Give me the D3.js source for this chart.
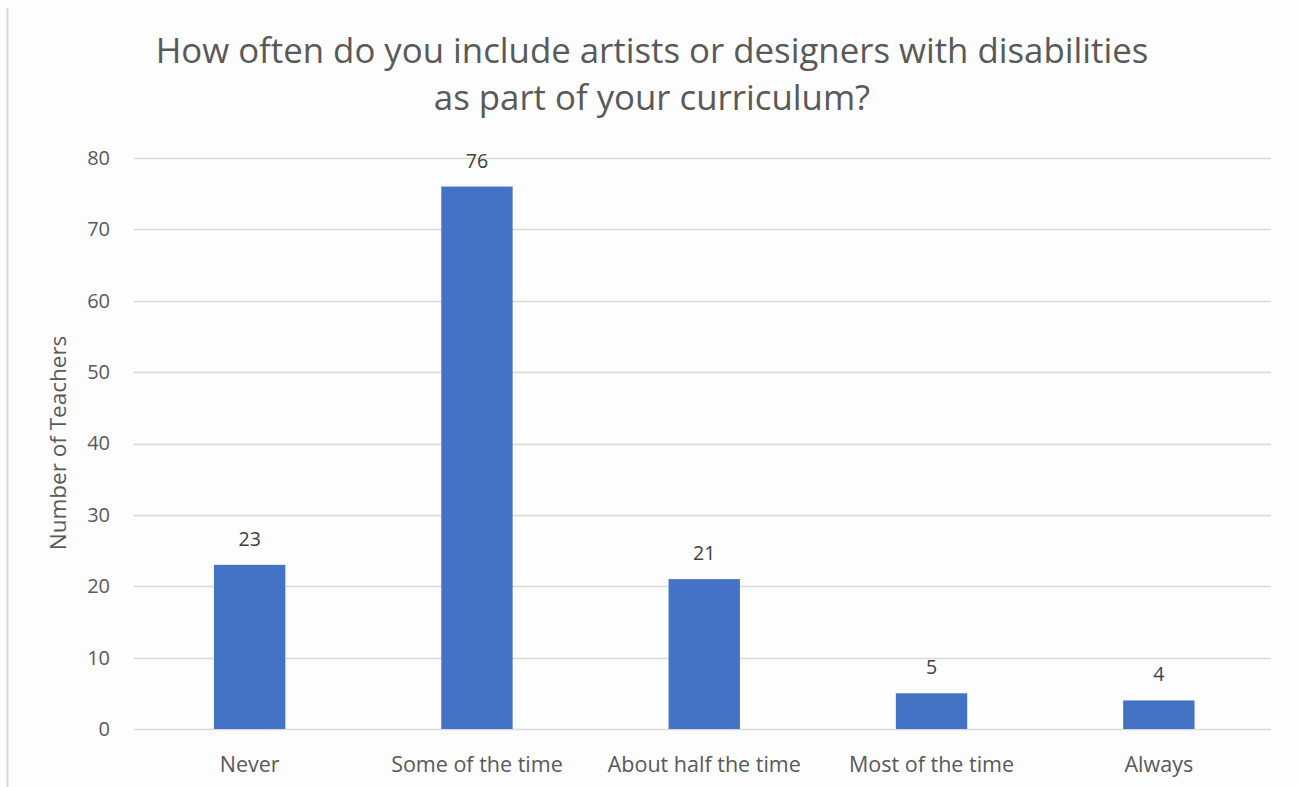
<!DOCTYPE html>
<html>
<head>
<meta charset="utf-8">
<script src="https://cdn.jsdelivr.net/npm/d3@7"></script>
<style>
  html, body { margin: 0; padding: 0; background: #fdfdfd; }
  svg { display: block; font-family: "Open Sans", "Noto Sans", sans-serif; }
</style>
</head>
<body>
<svg id="chart" width="1301" height="787"></svg>
<script>
const categories = ["Never", "Some of the time", "About half the time", "Most of the time", "Always"];
const values = [23, 76, 21, 5, 4];
const yTicks = [0, 10, 20, 30, 40, 50, 60, 70, 80];
const titleLines = ["How often do you include artists or designers with disabilities", "as part of your curriculum?"];
const yLabel = "Number of Teachers";

const svg = d3.select("#chart");
const W = 1301, H = 787;
const margin = { left: 134, right: 30, top: 158, bottom: 58 };
const plotW = W - margin.left - margin.right;
const plotH = H - margin.top - margin.bottom;

svg.append("rect").attr("width", W).attr("height", H).attr("fill", "#fdfdfd");
svg.append("line").attr("x1", 7.5).attr("x2", 7.5).attr("y1", 8).attr("y2", H)
  .attr("stroke", "#d9d9d9").attr("stroke-width", 2);

const g = svg.append("g").attr("transform", `translate(${margin.left},${margin.top})`);

const x = d3.scaleBand().domain(categories).range([2, plotW + 1.5]).paddingInner(0.686).paddingOuter(0.343);
const y = d3.scaleLinear().domain([0, 80]).range([plotH, 0]);

// gridlines
g.append("g").selectAll("line").data(yTicks).join("line")
  .attr("x1", 0).attr("x2", plotW)
  .attr("y1", d => Math.round(y(d)) + 0.5).attr("y2", d => Math.round(y(d)) + 0.5)
  .attr("stroke", "#d9d9d9").attr("stroke-width", 1.6);

// y axis labels
const yAxis = d3.axisLeft(y).tickValues(yTicks).tickSize(0).tickPadding(24);
const ya = g.append("g").call(yAxis);
ya.select(".domain").remove();
ya.selectAll("text").attr("font-size", 20).attr("fill", "#595959").attr("font-family", "'Open Sans', sans-serif");

// bars
g.append("g").selectAll("rect").data(values).join("rect")
  .attr("x", (d, i) => x(categories[i]))
  .attr("width", x.bandwidth())
  .attr("y", d => y(d))
  .attr("height", d => y(0) - y(d))
  .attr("fill", "#4472c4");

// value labels
g.append("g").selectAll("text").data(values).join("text")
  .attr("x", (d, i) => x(categories[i]) + x.bandwidth() / 2)
  .attr("y", d => y(d) - 19)
  .attr("text-anchor", "middle")
  .attr("font-size", 19.5)
  .attr("fill", "#404040")
  .text(d => d);

// x axis labels
const xAxis = d3.axisBottom(x).tickSize(0).tickPadding(28);
const xa = g.append("g").attr("transform", `translate(0,${plotH})`).call(xAxis);
xa.select(".domain").remove();
xa.selectAll("text").attr("font-size", 21.5).attr("fill", "#595959").attr("font-family", "'Open Sans', sans-serif");

// y label
svg.append("text")
  .attr("transform", `translate(66,443) rotate(-90)`)
  .attr("text-anchor", "middle")
  .attr("font-size", 22.5)
  .attr("fill", "#595959")
  .text(yLabel);

// title
const cx = 652;
const t1 = svg.append("text").attr("x", cx).attr("y", 63).attr("text-anchor", "middle")
  .attr("font-size", 32).attr("fill", "#595959").text(titleLines[0]);
const t2 = svg.append("text").attr("x", cx).attr("y", 110).attr("text-anchor", "middle")
  .attr("font-size", 32).attr("fill", "#595959").text(titleLines[1]);
const w1 = t1.node().getComputedTextLength();
const fs = 32 * 993 / w1;
t1.attr("font-size", fs);
t2.attr("font-size", fs);
</script>
</body>
</html>
